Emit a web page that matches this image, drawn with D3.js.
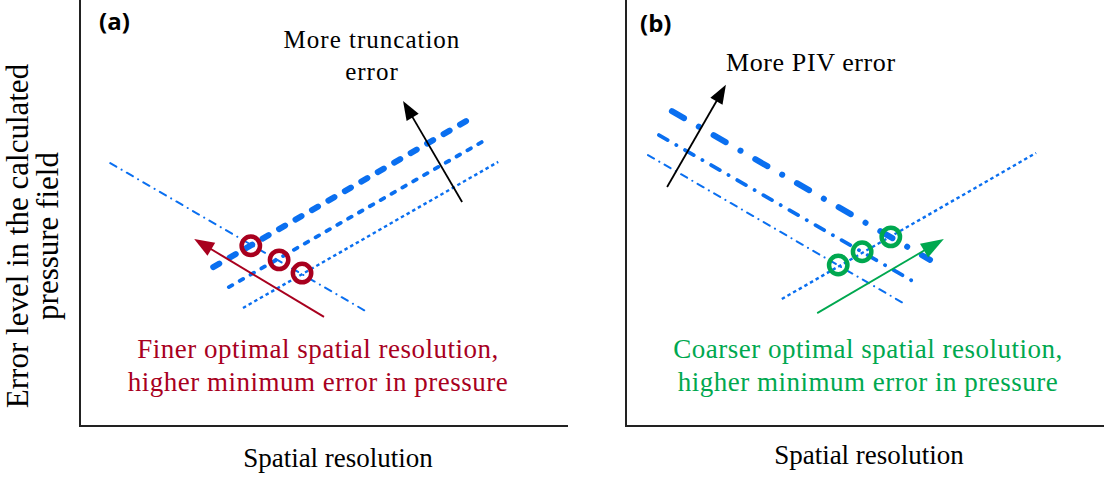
<!DOCTYPE html>
<html><head><meta charset="utf-8">
<script src="https://cdn.jsdelivr.net/npm/d3@7"></script>
<style>
html,body{margin:0;padding:0;background:#fff;}
svg{display:block;}
</style></head>
<body>
<svg id="chart" width="1104" height="484"></svg>
<script>
// ---------- data (schematic coordinates, 0-100 in each panel) ----------
const panels = ["(a)", "(b)"];
const xAxisLabel = "Spatial resolution";
const yAxisLabel = ["Error level in the calculated", "pressure field"];

// panel (a): one PIV-error curve (descending), three truncation curves (ascending)
const aPivLine = [[6.2, 61.7], [58.8, 26.8]];
const aTruncHigh = [[27.3, 37.3], [80.5, 72.5]];
const aTruncMid = [[30.5, 32.6], [83.0, 67.1]];
const aTruncLow = [[33.4, 27.7], [85.7, 62.0]];
const aOptima = [[35.0, 42.3], [40.8, 39.0], [45.5, 35.9]];
const aArrowTrunc = [[78.3, 52.6], [66.2, 76.3]];
const aArrowOpt = [[50.0, 25.6], [23.4, 43.9]];
const aLabelTop = ["More truncation", "error"];
const aLabelBottom = ["Finer optimal spatial resolution,", "higher minimum error in pressure"];

// panel (b): one truncation curve (ascending), three PIV-error curves (descending)
const bTruncLine = [[32.6, 29.8], [85.8, 64.1]];
const bPivLow = [[4.6, 63.6], [58.4, 28.6]];
const bPivMid = [[6.9, 68.3], [60.3, 33.8]];
const bPivHigh = [[9.6, 73.9], [63.6, 39.0]];
const bOptima = [[44.4, 37.8], [49.4, 40.9], [55.4, 44.4]];
const bArrowPiv = [[8.6, 56.1], [20.9, 80.1]];
const bArrowOpt = [[40.0, 26.5], [66.5, 43.9]];
const bLabelTop = ["More PIV error"];
const bLabelBottom = ["Coarser optimal spatial resolution,", "higher minimum error in pressure"];

// ---------- drawing ----------
const svg = d3.select("#chart");
const BLUE = "#0a6ff0", RED = "#a8001e", GREEN = "#00a84f", AXIS = "#222";
const SERIF = "'Liberation Serif','Times New Roman',serif";

const ya = d3.scaleLinear().domain([0, 100]).range([426, 0]);
const xa = d3.scaleLinear().domain([0, 100]).range([80, 568]);
const xb = d3.scaleLinear().domain([0, 100]).range([626, 1104]);

const lineGen = (x) => d3.line().x(d => x(d[0])).y(d => ya(d[1]));

function drawAxes(x, right) {
  svg.append("line").attr("x1", x(0)).attr("y1", 0).attr("x2", x(0)).attr("y2", ya(0))
    .attr("stroke", AXIS).attr("stroke-width", 2);
  svg.append("line").attr("x1", x(0) - 1).attr("y1", ya(0)).attr("x2", right).attr("y2", ya(0))
    .attr("stroke", AXIS).attr("stroke-width", 2.2);
}
drawAxes(xa, xa(100));
drawAxes(xb, 1104);

function drawLine(x, pts, w, dash, cap) {
  svg.append("path").attr("d", lineGen(x)(pts)).attr("fill", "none")
    .attr("stroke", BLUE).attr("stroke-width", w)
    .attr("stroke-dasharray", dash).attr("stroke-linecap", cap || "round");
}

function drawArrow(x, pts, color, w, len, wid) {
  const x1 = x(pts[0][0]), y1 = ya(pts[0][1]), x2 = x(pts[1][0]), y2 = ya(pts[1][1]);
  const dx = x2 - x1, dy = y2 - y1, L = Math.hypot(dx, dy), ux = dx / L, uy = dy / L;
  const bx = x2 - ux * len, by = y2 - uy * len;
  svg.append("line").attr("x1", x1).attr("y1", y1).attr("x2", bx + ux * 2).attr("y2", by + uy * 2)
    .attr("stroke", color).attr("stroke-width", w);
  const px = -uy, py = ux;
  svg.append("path").attr("d", `M${x2},${y2}L${bx + px * wid / 2},${by + py * wid / 2}L${bx - px * wid / 2},${by - py * wid / 2}Z`)
    .attr("fill", color);
}

function drawCircles(x, pts, color) {
  svg.selectAll(null).data(pts).enter().append("circle")
    .attr("cx", d => x(d[0])).attr("cy", d => ya(d[1])).attr("r", 9.2)
    .attr("fill", "none").attr("stroke", color).attr("stroke-width", 4.5);
}

function drawText(lines, cx, y0, dy, color, size, ls, anchor) {
  lines.forEach((t, i) => {
    svg.append("text").attr("x", cx).attr("y", y0 + i * dy).text(t)
      .attr("text-anchor", anchor || "middle").attr("fill", color)
      .attr("font-family", SERIF).attr("font-size", size).attr("letter-spacing", ls);
  });
}

// panel (a)
drawLine(xa, aPivLine, 2, "7 6 0.1 6");
drawLine(xa, aTruncLow, 2.4, "3.5 3", "butt");
drawLine(xa, aTruncMid, 3.8, "4 8.5");
drawLine(xa, aTruncHigh, 6, "7 12");
drawCircles(xa, aOptima, RED);
drawArrow(xa, aArrowTrunc, "#000", 1.8, 19, 14);
drawArrow(xa, aArrowOpt, RED, 2, 20, 15);

// panel (b)
drawLine(xb, bTruncLine, 2.4, "3.5 3", "butt");
drawLine(xb, bPivLow, 2, "7 6 0.1 6");
drawLine(xb, bPivMid, 3.8, "10 10 0.1 10");
drawLine(xb, bPivHigh, 6, "14 17 0.1 17");
drawCircles(xb, bOptima, GREEN);
drawArrow(xb, bArrowPiv, "#000", 1.8, 19, 14);
drawArrow(xb, bArrowOpt, GREEN, 1.8, 23, 16);

// panel letters
panels.forEach((p, i) => {
  svg.append("text").attr("x", i === 0 ? 99 : 640).attr("y", i === 0 ? 30 : 32).text(p)
    .attr("font-family", "'Open Sans', sans-serif").attr("font-weight", "bold")
    .attr("font-size", 24).attr("fill", "#000");
});

// annotations
drawText(aLabelTop, 372, 48, 32, "#000", 25, 1);
drawText(bLabelTop, 726, 71, 0, "#000", 26, 0.6, "start");
drawText(aLabelBottom, 318, 358, 33, RED, 27, 0.5);
drawText(bLabelBottom, 868, 358, 33, GREEN, 27, 0.5);

// axis labels
drawText([xAxisLabel], 338, 467, 0, "#000", 27, 0);
drawText([xAxisLabel], 869, 464, 0, "#000", 27, 0);
yAxisLabel.forEach((t, i) => {
  svg.append("text").attr("transform", `translate(${i === 0 ? 28 : 58},236) rotate(-90)`)
    .attr("text-anchor", "middle").text(t)
    .attr("font-family", SERIF).attr("font-size", 31).attr("fill", "#000");
});
</script>
</body></html>
